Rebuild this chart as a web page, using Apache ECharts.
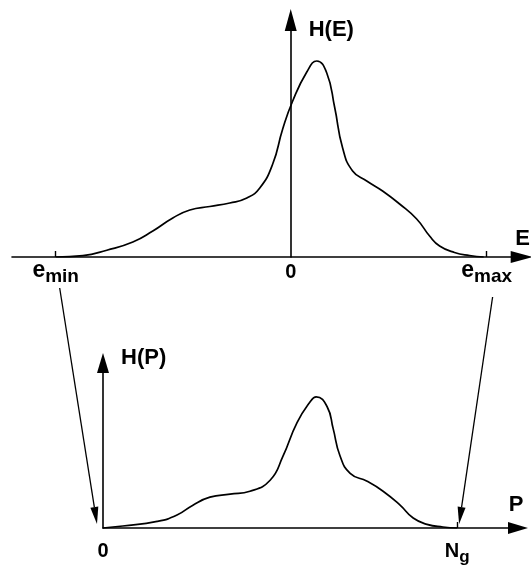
<!DOCTYPE html>
<html><head><meta charset="utf-8">
<script src="https://cdn.jsdelivr.net/npm/echarts@6/dist/echarts.min.js"></script>
<style>html,body{margin:0;padding:0;background:#fff}#c{width:531px;height:566px}</style>
</head><body><div id="c"></div>
<script>
// Top histogram H(E)
const topE = [-1.199, -1.061, -0.939, -0.806, -0.704, -0.602, -0.515, -0.413, -0.311, -0.224, -0.158, -0.092, -0.041, 0.010, 0.082, 0.133, 0.184, 0.224, 0.265, 0.316, 0.388, 0.469, 0.556, 0.643, 0.709, 0.760, 0.836, 0.913, 0.985];
const topH = [0, 1.4, 6.8, 15, 26, 39, 47, 50.5, 54, 59, 69, 93, 128, 156, 185, 196, 184, 150, 109, 86, 76, 66, 53, 38, 21, 11, 4.5, 1.5, 0];
// Bottom histogram H(P)
const botP = [0, 0.056, 0.153, 0.209, 0.254, 0.302, 0.359, 0.415, 0.472, 0.508, 0.548, 0.585, 0.602, 0.633, 0.650, 0.669, 0.698, 0.746, 0.791, 0.839, 0.876, 0.915, 0.960, 1.0];
const botH = [0, 2, 6.6, 13, 23, 31, 34, 37, 48, 72, 106, 127, 132, 122, 100, 73, 55, 47, 37, 23, 10, 3.7, 1, 0];
// Axis marks
const E_MIN = -1.2, E_MAX = 1.0, N_G = 1.0;
const topLabelValues = [E_MIN, 0, E_MAX];
const topLabelTexts = ['{e|e}{s|min}', '{z|0}', '{e|e}{s|max}'];
const botLabelValues = [0, N_G];
const botLabelTexts = ['{z|0}', '{n|N}{g|g}'];

const FONT = 'Liberation Sans, Arial, Helvetica, sans-serif';
const chart = echarts.init(document.getElementById('c'));
const axisLineStyle = { color: '#000', width: 1.6 };

function labelFor(values, texts) {
  return function (v) {
    for (let i = 0; i < values.length; i++) if (Math.abs(v - values[i]) < 1e-6) return texts[i];
    return '';
  };
}

const option = {
  animation: false,
  backgroundColor: '#fff',
  grid: [
    { left: 12, right: 9, top: 20, bottom: 309 },
    { left: 103, right: 13, top: 363, bottom: 37 }
  ],
  xAxis: [
    {
      gridIndex: 0, type: 'value', min: -1.423, max: 1.179,
      name: 'E', nameLocation: 'end', nameGap: 1,
      nameTextStyle: { fontFamily: FONT, fontWeight: 'bold', fontSize: 22, color: '#000', align: 'center', verticalAlign: 'bottom', padding: [0, 0, 7, 0] },
      axisLine: { onZero: true, lineStyle: axisLineStyle, symbol: ['none', 'triangle'], symbolSize: [12, 22] },
      axisTick: { show: true, inside: true, length: 6, customValues: [E_MIN, E_MAX], lineStyle: { color: '#000', width: 1.4 } },
      axisLabel: {
        show: true, customValues: topLabelValues, margin: 2,
        formatter: labelFor(topLabelValues, topLabelTexts),
        rich: {
          e: { fontFamily: FONT, fontWeight: 'bold', fontSize: 23, color: '#000', lineHeight: 27, verticalAlign: 'top' },
          s: { fontFamily: FONT, fontWeight: 'bold', fontSize: 19, color: '#000', lineHeight: 27, verticalAlign: 'bottom' },
          z: { fontFamily: FONT, fontWeight: 'bold', fontSize: 20, color: '#000', lineHeight: 27, verticalAlign: 'middle' }
        }
      },
      splitLine: { show: false }
    },
    {
      gridIndex: 1, type: 'value', min: 0, max: 1.172,
      name: 'P', nameLocation: 'end', nameGap: -2,
      nameTextStyle: { fontFamily: FONT, fontWeight: 'bold', fontSize: 22, color: '#000', align: 'center', verticalAlign: 'bottom', padding: [0, 0, 12, 0] },
      axisLine: { onZero: true, lineStyle: axisLineStyle, symbol: ['none', 'triangle'], symbolSize: [12, 20] },
      axisTick: { show: true, inside: true, length: 6, customValues: [N_G], lineStyle: { color: '#000', width: 1.4 } },
      axisLabel: {
        show: true, customValues: botLabelValues, margin: 13,
        formatter: labelFor(botLabelValues, botLabelTexts),
        rich: {
          z: { fontFamily: FONT, fontWeight: 'bold', fontSize: 20, color: '#000', lineHeight: 25, verticalAlign: 'top' },
          n: { fontFamily: FONT, fontWeight: 'bold', fontSize: 20, color: '#000', lineHeight: 25, verticalAlign: 'top' },
          g: { fontFamily: FONT, fontWeight: 'bold', fontSize: 17, color: '#000', lineHeight: 25, verticalAlign: 'bottom' }
        }
      },
      splitLine: { show: false }
    }
  ],
  yAxis: [
    {
      gridIndex: 0, type: 'value', min: 0, max: 237,
      name: 'H(E)', nameLocation: 'end', nameGap: -10,
      nameTextStyle: { fontFamily: FONT, fontWeight: 'bold', fontSize: 22, color: '#000', align: 'left', verticalAlign: 'middle', padding: [0, 0, 0, 18] },
      axisLine: { show: true, onZero: true, lineStyle: axisLineStyle, symbol: ['none', 'triangle'], symbolSize: [12, 22] },
      axisTick: { show: false }, axisLabel: { show: false }, splitLine: { show: false }
    },
    {
      gridIndex: 1, type: 'value', min: 0, max: 166,
      name: 'H(P)', nameLocation: 'end', nameGap: 5,
      nameTextStyle: { fontFamily: FONT, fontWeight: 'bold', fontSize: 22, color: '#000', align: 'left', verticalAlign: 'middle', padding: [0, 0, 0, 18] },
      axisLine: { show: true, onZero: true, lineStyle: axisLineStyle, symbol: ['none', 'triangle'], symbolSize: [12, 20] },
      axisTick: { show: false }, axisLabel: { show: false }, splitLine: { show: false }
    }
  ],
  series: [
    {
      type: 'line', xAxisIndex: 0, yAxisIndex: 0, smooth: 0.5, showSymbol: false, silent: true,
      lineStyle: { color: '#000', width: 1.7 },
      data: topE.map((e, i) => [e, topH[i]])
    },
    {
      type: 'line', xAxisIndex: 1, yAxisIndex: 1, smooth: 0.5, showSymbol: false, silent: true,
      lineStyle: { color: '#000', width: 1.7 },
      data: botP.map((p, i) => [p, botH[i]])
    }
  ]
};
chart.setOption(option);

// Mapping arrows from e_min -> 0 and e_max -> N_g, anchored to the axes
function arrow(from, to, headLen, headHalf) {
  const dx = to[0] - from[0], dy = to[1] - from[1];
  const L = Math.sqrt(dx * dx + dy * dy);
  const ux = dx / L, uy = dy / L;
  const bx = to[0] - ux * headLen, by = to[1] - uy * headLen;
  const px = -uy, py = ux;
  return [
    { type: 'line', shape: { x1: from[0], y1: from[1], x2: bx, y2: by }, style: { stroke: '#000', lineWidth: 1.3 }, silent: true },
    { type: 'polygon', shape: { points: [[to[0], to[1]], [bx + px * headHalf, by + py * headHalf], [bx - px * headHalf, by - py * headHalf]] }, style: { fill: '#000' }, silent: true }
  ];
}
const pMin = chart.convertToPixel({ xAxisIndex: 0, yAxisIndex: 0 }, [E_MIN, 0]);
const pMax = chart.convertToPixel({ xAxisIndex: 0, yAxisIndex: 0 }, [E_MAX, 0]);
const p0 = chart.convertToPixel({ xAxisIndex: 1, yAxisIndex: 1 }, [0, 0]);
const pNg = chart.convertToPixel({ xAxisIndex: 1, yAxisIndex: 1 }, [N_G, 0]);
chart.setOption({
  graphic: [].concat(
    arrow([pMin[0] + 4, pMin[1] + 31], [p0[0] - 6, p0[1] - 4], 17, 4),
    arrow([pMax[0] + 6, pMax[1] + 40], [pNg[0] + 2, pNg[1] - 4], 17, 4)
  )
});
</script></body></html>
